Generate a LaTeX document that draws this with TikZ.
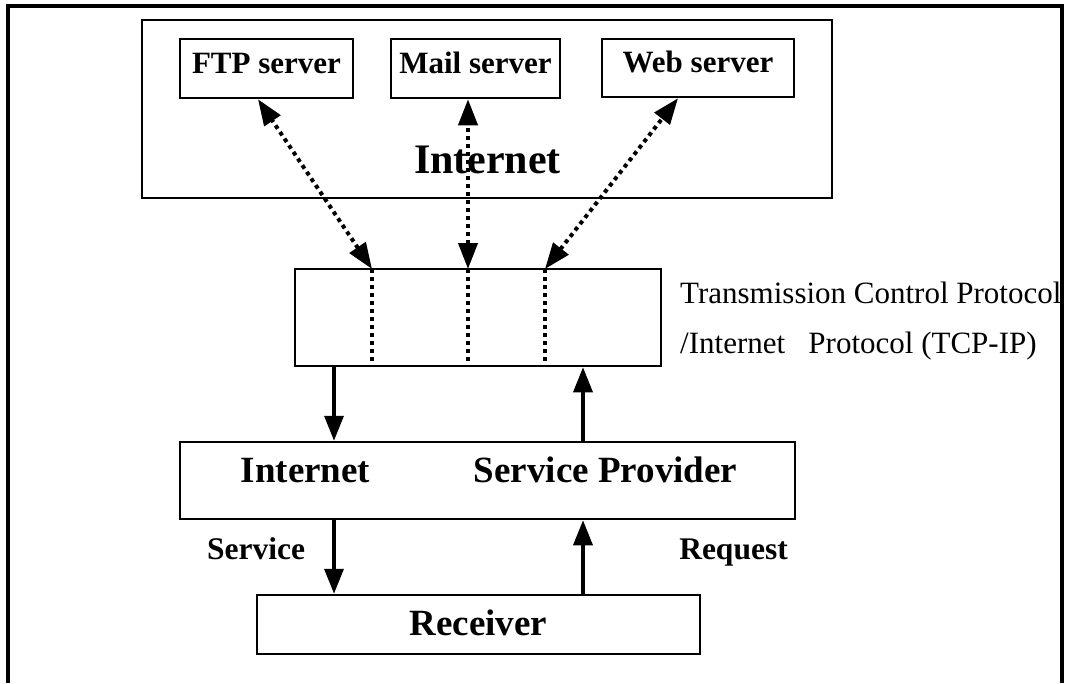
\documentclass[tikz,border=0pt]{standalone}
\usepackage{fontspec}
\setmainfont{Liberation Serif}
\usetikzlibrary{arrows.meta,calc}

\begin{document}
\begin{tikzpicture}[x=1pt,y=-1pt,
    box/.style={draw,line width=2.5pt,inner sep=0pt},
    srvbox/.style={box,font=\fontsize{31}{37}\selectfont\bfseries,text height=20.5pt,text depth=11.5pt},
    lbl/.style={inner sep=0pt,anchor=base},
    dotline/.style={line width=4pt,dash pattern=on 4pt off 4pt},
    dotarr/.style={dotline,{Triangle[length=26pt,width=19pt]}-{Triangle[length=26pt,width=19pt]}},
    arr/.style={line width=3.5pt,-{Triangle[length=25pt,width=19pt]}}]
    \useasboundingbox (0,0) rectangle (1070,683);

    % outer frame, open at the bottom
    \draw[line width=3.5pt] (8,683) -- (8,6) -- (1062,6) -- (1062,683);

    % internet with its servers
    \node [box,minimum width=690pt,minimum height=178pt] (net) at (487,109) {};
    \node [srvbox,minimum width=173pt,minimum height=59pt] (ftp) at (266.5,68.5) {FTP server};
    \node [srvbox,minimum width=169pt,minimum height=59pt] (mail) at (475.5,68.5) {Mail server};
    \node [srvbox,minimum width=192pt,minimum height=58pt] (web) at (698,68) {Web server};
    \node [lbl,font=\fontsize{42}{50}\selectfont\bfseries] (netlbl) at (487.5,173) {Internet};

    % tcp-ip layer
    \node [box,minimum width=366pt,minimum height=97pt] (tcp) at (478,317.5) {};
    \coordinate (p1) at (372,269);
    \coordinate (p2) at (468,269);
    \coordinate (p3) at (545,269);
    \foreach \p in {p1,p2,p3}
        \draw[dotline] (\p) -- (\p |- tcp.south);
    \draw[dotarr] (p1) -- ([xshift=-8.5pt]ftp.south);
    \draw[dotarr] (p2) -- (mail.south -| p2);
    \draw[dotarr] (p3) -- ([xshift=-20pt]web.south);
    \node [lbl,anchor=base west,font=\fontsize{31}{37}\selectfont] (tcplbl1) at (680,303) {Transmission Control Protocol};
    \node [lbl,anchor=base west,font=\fontsize{31}{37}\selectfont] (tcplbl2) at (680,353) {/Internet\ \ \ Protocol (TCP-IP)};

    % service provider and receiver
    \node [box,minimum width=615pt,minimum height=77pt] (isp) at (487.5,480.5) {};
    \node [lbl,font=\fontsize{37}{44}\selectfont\bfseries] (isplbl1) at (305.5,482) {Internet};
    \node [lbl,font=\fontsize{37}{44}\selectfont\bfseries] (isplbl2) at (605.5,482) {Service Provider};
    \node [box,minimum width=443pt,minimum height=59pt,font=\fontsize{37}{44}\selectfont\bfseries,text height=25pt,text depth=4pt] (rcv) at (478.5,624.5) {Receiver};
    \node [lbl,font=\fontsize{31.5}{38}\selectfont\bfseries] (svclbl) at (256,559) {Service};
    \node [lbl,font=\fontsize{31.5}{38}\selectfont\bfseries] (reqlbl) at (733.5,559) {Request};

    \coordinate (lft) at (334,0);
    \coordinate (rgt) at (583,0);
    \draw[arr] (tcp.south -| lft) -- (isp.north -| lft);
    \draw[arr] (isp.north -| rgt) -- (tcp.south -| rgt);
    \draw[arr] (isp.south -| lft) -- (rcv.north -| lft);
    \draw[arr] (rcv.north -| rgt) -- (isp.south -| rgt);
\end{tikzpicture}
\end{document}
